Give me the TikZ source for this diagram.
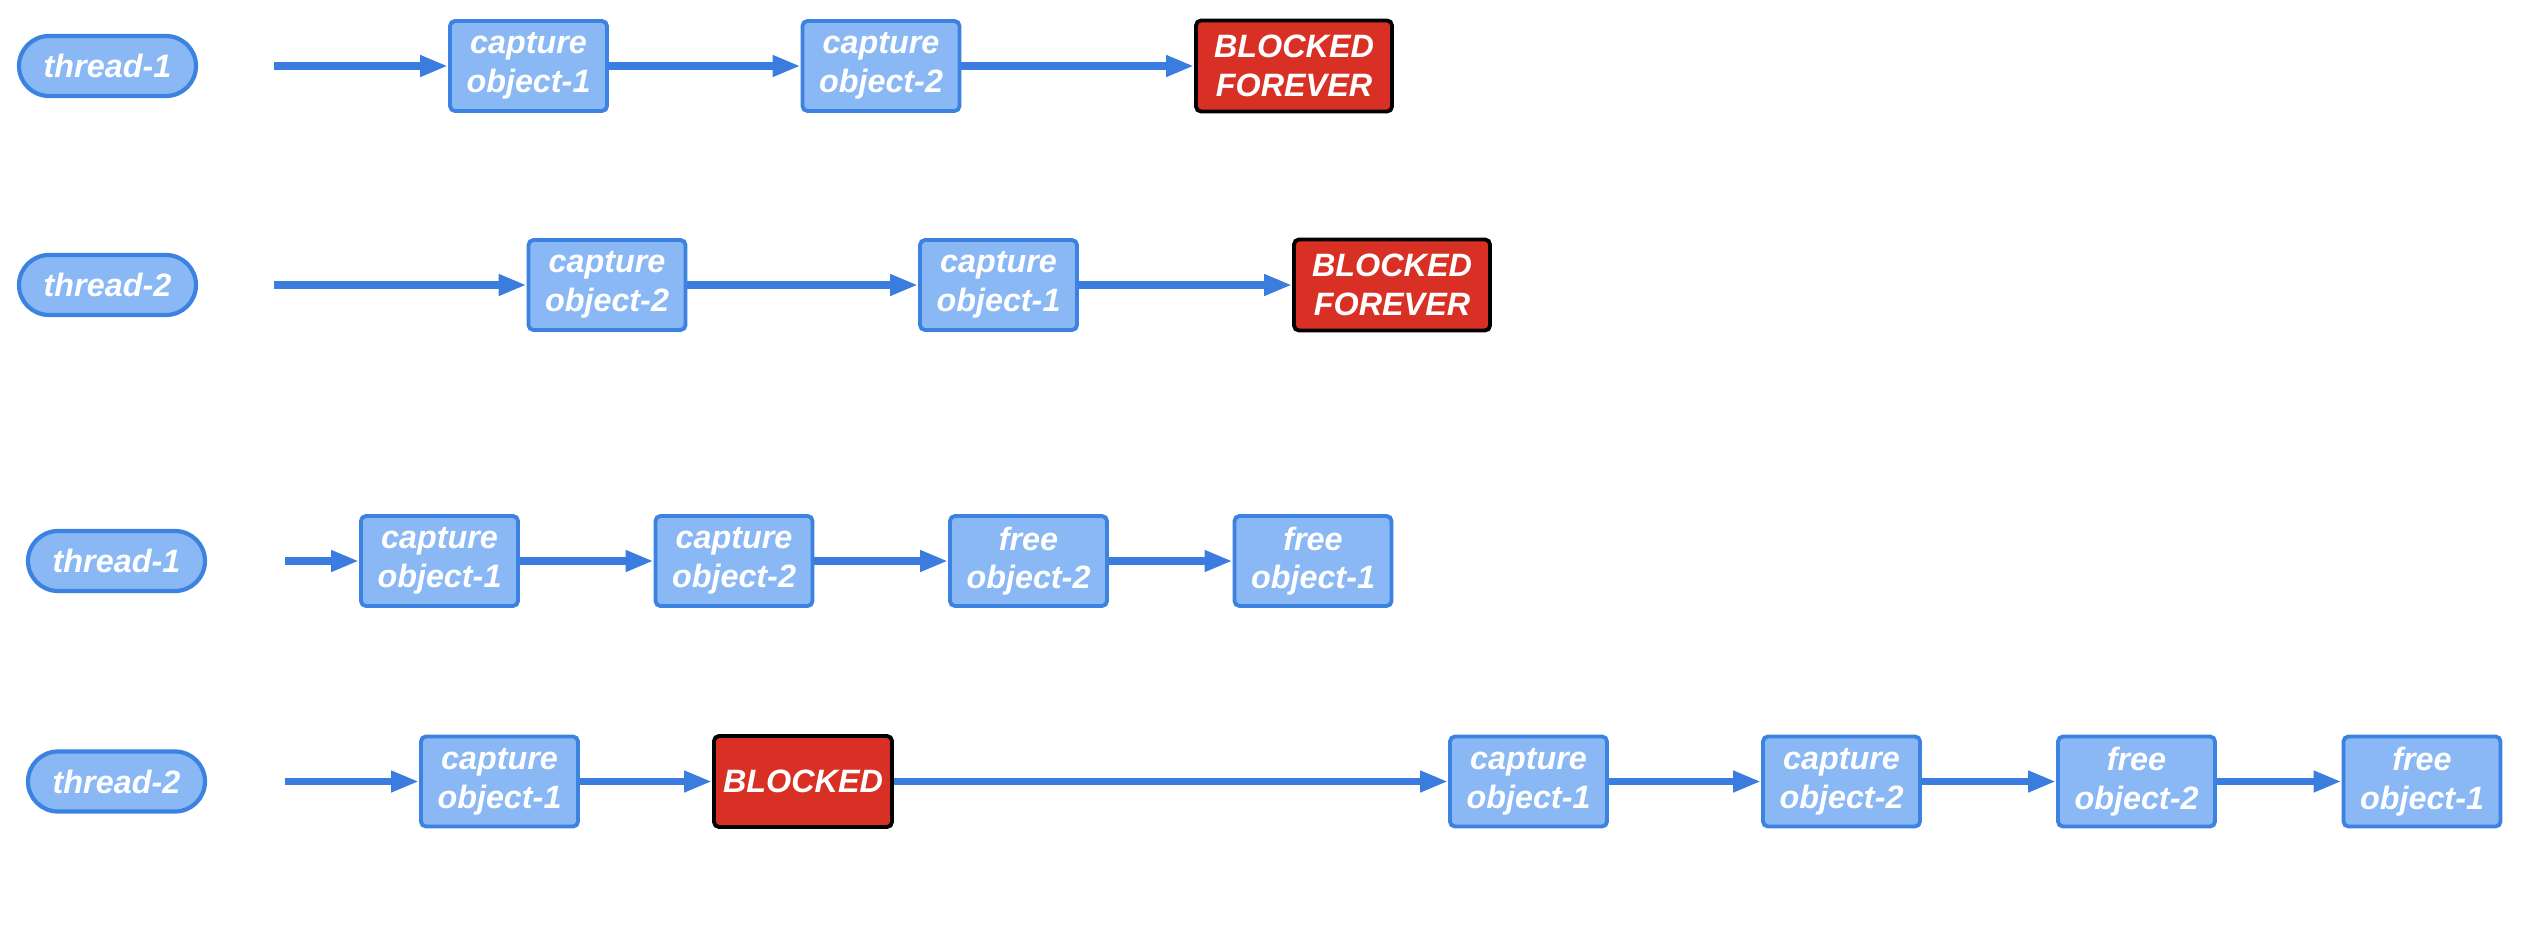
\documentclass[tikz,border=0pt]{standalone}
\usepackage{fontspec}
\setmainfont{Liberation Sans}
\usetikzlibrary{arrows.meta,shapes.misc}

\definecolor{boxfill}{RGB}{138,184,245}
\definecolor{boxline}{RGB}{60,130,225}
\definecolor{arrowblue}{RGB}{58,125,222}
\definecolor{blockred}{RGB}{217,48,37}

\begin{document}
\begin{tikzpicture}[
    thread/.style = {draw=boxline, fill=boxfill, line width=1.2pt, rounded rectangle,
                     minimum width=1.77cm, minimum height=0.6cm, inner sep=0pt},
    stepbox/.style = {draw=boxline, fill=boxfill, line width=1.1pt, rounded corners=0.05cm,
                      minimum width=1.57cm, minimum height=0.9cm, inner sep=0pt, align=center},
    blocked/.style = {draw=black, fill=blockred, line width=1.1pt, rounded corners=0.05cm,
                      minimum width=1.96cm, minimum height=0.91cm, inner sep=0pt, align=center},
    flow/.style = {draw=arrowblue, line width=2pt, -{Triangle[length=0.28cm, width=0.2cm]}},
    every node/.style = {text=white, font=\fontsize{9.2pt}{11pt}\selectfont\bfseries\itshape}
  ]
        \useasboundingbox (0,0) rectangle (25.22,-9.38);
        % first case: deadlock
        \node[thread] (t1) at (1.075,-0.66) {thread-1};
        \coordinate (s1) at (2.74,-0.66);
        \node[stepbox] (a1) at (5.285,-0.66) {capture\\object-1};
        \node[stepbox] (a2) at (8.81,-0.66) {capture\\object-2};
        \node[blocked] (a3) at (12.94,-0.66) {BLOCKED\\FOREVER};
        \draw[flow] (s1) -- (a1);
        \draw[flow] (a1) -- (a2);
        \draw[flow] (a2) -- (a3);

        \node[thread] (t2) at (1.075,-2.85) {thread-2};
        \coordinate (s2) at (2.74,-2.85);
        \node[stepbox] (b1) at (6.07,-2.85) {capture\\object-2};
        \node[stepbox] (b2) at (9.985,-2.85) {capture\\object-1};
        \node[blocked] (b3) at (13.92,-2.85) {BLOCKED\\FOREVER};
        \draw[flow] (s2) -- (b1);
        \draw[flow] (b1) -- (b2);
        \draw[flow] (b2) -- (b3);

        % second case: same order
        \node[thread] (t3) at (1.165,-5.61) {thread-1};
        \coordinate (s3) at (2.85,-5.61);
        \node[stepbox] (c1) at (4.395,-5.61) {capture\\object-1};
        \node[stepbox] (c2) at (7.34,-5.61) {capture\\object-2};
        \node[stepbox] (c3) at (10.285,-5.61) {free\\object-2};
        \node[stepbox] (c4) at (13.13,-5.61) {free\\object-1};
        \draw[flow] (s3) -- (c1);
        \draw[flow] (c1) -- (c2);
        \draw[flow] (c2) -- (c3);
        \draw[flow] (c3) -- (c4);

        \node[thread] (t4) at (1.165,-7.815) {thread-2};
        \coordinate (s4) at (2.85,-7.815);
        \node[stepbox] (d1) at (4.995,-7.815) {capture\\object-1};
        \node[blocked, minimum width=1.78cm] (d2) at (8.03,-7.815) {BLOCKED};
        \node[stepbox] (d3) at (15.285,-7.815) {capture\\object-1};
        \node[stepbox] (d4) at (18.415,-7.815) {capture\\object-2};
        \node[stepbox] (d5) at (21.365,-7.815) {free\\object-2};
        \node[stepbox] (d6) at (24.22,-7.815) {free\\object-1};
        \draw[flow] (s4) -- (d1);
        \draw[flow] (d1) -- (d2);
        \draw[flow] (d2) -- (d3);
        \draw[flow] (d3) -- (d4);
        \draw[flow] (d4) -- (d5);
        \draw[flow] (d5) -- (d6);
    \end{tikzpicture}
\end{document}
